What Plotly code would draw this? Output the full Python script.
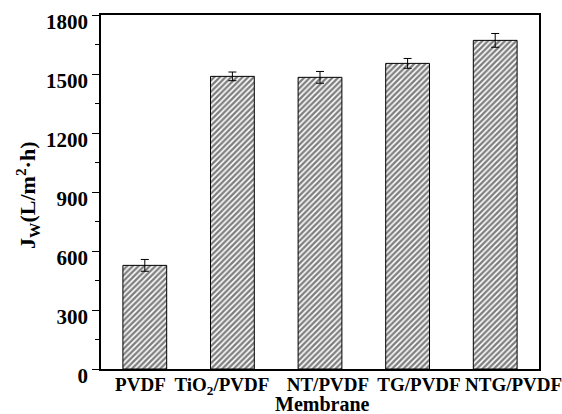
import plotly.graph_objects as go

# Pure water flux of the membranes
membranes = ["PVDF", "TiO<sub>2</sub>/PVDF", "NT/PVDF", "TG/PVDF", "NTG/PVDF"]
flux = [527, 1488, 1483, 1554, 1671]
flux_err = [30, 22, 30, 25, 35]
y_ticks = [0, 300, 600, 900, 1200, 1500, 1800]

# small horizontal nudges (in category units) for the tick labels
label_nudge = [-0.05, -0.12, 0.09, 0.13, 0.21]

positions = list(range(len(membranes)))
font_family = "Liberation Serif"

fig = go.Figure()
fig.add_trace(go.Bar(
    x=positions,
    y=flux,
    width=0.5,
    marker=dict(
        color="white",
        line=dict(color="black", width=1),
        pattern=dict(shape="/", fgcolor="black", bgcolor="white", size=4, solidity=0.6),
    ),
    error_y=dict(type="data", array=flux_err, visible=True, color="black", thickness=1, width=4),
    showlegend=False,
))

fig.update_layout(
    width=562, height=414,
    margin=dict(l=101, r=23, t=15, b=45),
    paper_bgcolor="white", plot_bgcolor="white",
    font=dict(family=font_family, size=20, color="black", weight="bold"),
    xaxis=dict(
        range=[-0.5, 4.5],
        tickvals=[p + d for p, d in zip(positions, label_nudge)],
        ticktext=membranes,
        ticks="", showgrid=False, zeroline=False,
        showline=True, linecolor="black", linewidth=1.5, mirror=True,
        tickfont=dict(size=19, family=font_family, weight="bold"),
        ticklabeloverflow="allow",
        ticklabelstandoff=-3,
        automargin=False,
    ),
    yaxis=dict(
        range=[0, 1800],
        tickvals=y_ticks,
        ticks="outside", ticklen=7, tickwidth=1.2, tickcolor="black",
        minor=dict(dtick=150, ticks="outside", ticklen=4, tickwidth=1.2, tickcolor="black", showgrid=False),
        showgrid=False, zeroline=False,
        showline=True, linecolor="black", linewidth=1.5, mirror=True,
        tickfont=dict(size=21, family=font_family, weight="bold"),
        ticklabelshift=7,
        ticklabeloverflow="allow",
        automargin=False,
    ),
    annotations=[
        dict(text="J<sub>W</sub>(L/m<sup>2</sup>·h)", textangle=-90,
             xref="paper", yref="paper", x=-0.168, y=0.49,
             xanchor="center", yanchor="middle", showarrow=False,
             font=dict(size=22, family=font_family, weight="bold")),
        dict(text="Membrane",
             xref="paper", yref="paper", x=0.505, y=-0.100,
             xanchor="center", yanchor="middle", showarrow=False,
             font=dict(size=20, family=font_family, weight="bold")),
    ],
)

fig.write_html("out.html")
